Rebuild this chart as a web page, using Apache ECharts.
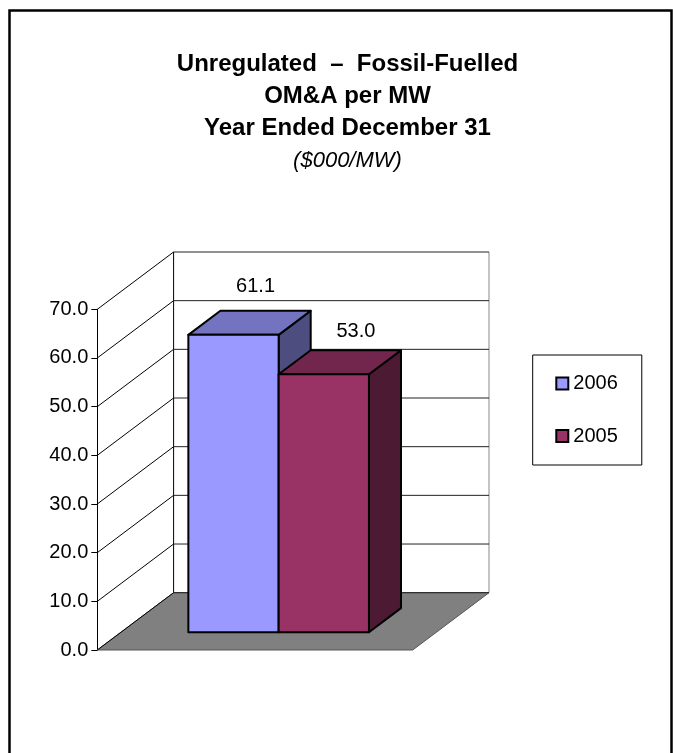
<!DOCTYPE html>
<html>
<head>
<meta charset="utf-8">
<script src="https://cdn.jsdelivr.net/npm/echarts@6/dist/echarts.min.js"></script>
<style>
  html, body { margin: 0; padding: 0; background: #fff; }
  #main { width: 673px; height: 753px; }
</style>
</head>
<body>
<div id="main"></div>
<script>
// data
var years = ['2006', '2005'];
var omaPerMw = [61.1, 53.0];
var yTicks = [0, 10, 20, 30, 40, 50, 60, 70];

var frontColors = ['#9999FF', '#993366'];
var topColors = ['#7373BF', '#73264D'];
var sideColors = ['#4D4D80', '#4D1A33'];
// label nudges, in pixels from the back top edge of each bar
var labelDx = [-10, 0];
var labelDy = [-24, -19];

// 3d depth of the plot (pixels), and where the bars sit inside it
var DX = 76.3, DY = -57.3;
var D1 = 0.31, D2 = 0.73;
var BAR_FRAC = 0.2863;
var FONT = '"Liberation Sans", Arial, sans-serif';

var chart = echarts.init(document.getElementById('main'));

function renderWalls(params, api) {
    var v = api.value(1);
    var p = api.coord([0, v]);
    var band = api.size([1, 0])[0];
    var left = p[0] - band / 2, right = p[0] + band / 2;
    var children = [];
    if (v === 0) {
        var top = api.coord([0, yTicks[yTicks.length - 1]])[1];
        children.push({
            type: 'polygon',
            shape: { points: [[left, p[1]], [left + DX, p[1] + DY], [right + DX, p[1] + DY], [right, p[1]]] },
            style: { fill: '#808080', stroke: '#555', lineWidth: 1 }
        });
        children.push({
            type: 'line',
            shape: { x1: left + DX, y1: p[1] + DY, x2: left + DX, y2: top + DY },
            style: { stroke: '#000', lineWidth: 1 }
        });
        children.push({
            type: 'line',
            shape: { x1: right + DX, y1: p[1] + DY, x2: right + DX, y2: top + DY },
            style: { stroke: '#888', lineWidth: 1 }
        });
    }
    children.push({
        type: 'line',
        shape: { x1: left, y1: p[1], x2: left + DX, y2: p[1] + DY },
        style: { stroke: '#000', lineWidth: 1 }
    });
    children.push({
        type: 'line',
        shape: { x1: left + DX, y1: p[1] + DY, x2: right + DX, y2: p[1] + DY },
        style: { stroke: '#222', lineWidth: 1 }
    });
    return { type: 'group', children: children };
}

function makeBar(i) {
    return function (params, api) {
        var v = api.value(1);
        var base = api.coord([0, 0]);
        var topY = api.coord([0, v])[1];
        var band = api.size([1, 0])[0];
        var w = band * BAR_FRAC;
        var x0 = base[0] - w + i * w, x1 = x0 + w;
        var sx1 = D1 * DX, sy1 = D1 * DY, sx2 = D2 * DX, sy2 = D2 * DY;
        var y0 = base[1];
        var line = { stroke: '#000', lineWidth: 2, lineJoin: 'round' };
        return {
            type: 'group',
            children: [
                {
                    type: 'polygon',
                    shape: { points: [[x1 + sx1, topY + sy1], [x1 + sx2, topY + sy2], [x1 + sx2, y0 + sy2], [x1 + sx1, y0 + sy1]] },
                    style: Object.assign({ fill: sideColors[i] }, line)
                },
                {
                    type: 'polygon',
                    shape: { points: [[x0 + sx1, topY + sy1], [x1 + sx1, topY + sy1], [x1 + sx2, topY + sy2], [x0 + sx2, topY + sy2]] },
                    style: Object.assign({ fill: topColors[i] }, line)
                },
                {
                    type: 'rect',
                    shape: { x: x0 + sx1, y: topY + sy1, width: w, height: y0 - topY },
                    style: Object.assign({ fill: frontColors[i] }, line)
                },
                {
                    type: 'text',
                    x: (x0 + x1) / 2 + sx2 + labelDx[i],
                    y: topY + sy2 + labelDy[i],
                    style: {
                        text: v.toFixed(1),
                        fill: '#000',
                        font: '20px ' + FONT,
                        align: 'center',
                        verticalAlign: 'middle'
                    }
                }
            ]
        };
    };
}

var series = [{
    type: 'custom',
    name: 'walls',
    silent: true,
    z: 1,
    data: yTicks.map(function (t) { return [0, t]; }),
    renderItem: renderWalls
}];
years.forEach(function (y, i) {
    series.push({
        type: 'custom',
        name: y,
        z: 2 + i,
        itemStyle: { color: frontColors[i] },
        data: [[0, omaPerMw[i]]],
        renderItem: makeBar(i)
    });
});

option = {
    animation: false,
    backgroundColor: '#fff',
    title: {
        text: 'Unregulated  \u2013  Fossil-Fuelled\nOM&A per MW\nYear Ended December 31',
        subtext: '($000/MW)',
        left: 347.5,
        top: 48,
        padding: 0,
        textAlign: 'center',
        itemGap: 4,
        textStyle: { fontFamily: FONT, fontSize: 24, fontWeight: 'bold', color: '#000', lineHeight: 32 },
        subtextStyle: { fontFamily: FONT, fontSize: 22, fontStyle: 'italic', color: '#000', lineHeight: 25 }
    },
    legend: {
        orient: 'vertical',
        left: 532.7,
        top: 355,
        padding: [18.5, 24, 19, 22.6],
        itemGap: 32.5,
        itemWidth: 12,
        itemHeight: 12,
        borderColor: '#000',
        borderWidth: 1,
        icon: 'rect',
        textStyle: { fontFamily: FONT, fontSize: 20, color: '#000' },
        data: years.map(function (y, i) {
            return { name: y, itemStyle: { color: frontColors[i], borderColor: '#000', borderWidth: 2 } };
        })
    },
    grid: { left: 97.3, top: 309.3, width: 315.4, height: 340.7 },
    xAxis: {
        type: 'category',
        data: [''],
        show: false
    },
    yAxis: {
        type: 'value',
        min: 0,
        max: 70,
        interval: 10,
        axisLine: { show: true, lineStyle: { color: '#000', width: 1 } },
        axisTick: { show: true, length: 6, lineStyle: { color: '#000' } },
        axisLabel: {
            margin: 9,
            fontFamily: FONT,
            fontSize: 20,
            color: '#000',
            formatter: function (v) { return v.toFixed(1); }
        },
        splitLine: { show: false }
    },
    graphic: [{
        type: 'rect',
        shape: { x: 9.5, y: 10.5, width: 662, height: 760 },
        style: { fill: 'none', stroke: '#000', lineWidth: 2.5 },
        z: 100
    }],
    series: series
};

chart.setOption(option);
</script>
</body>
</html>
